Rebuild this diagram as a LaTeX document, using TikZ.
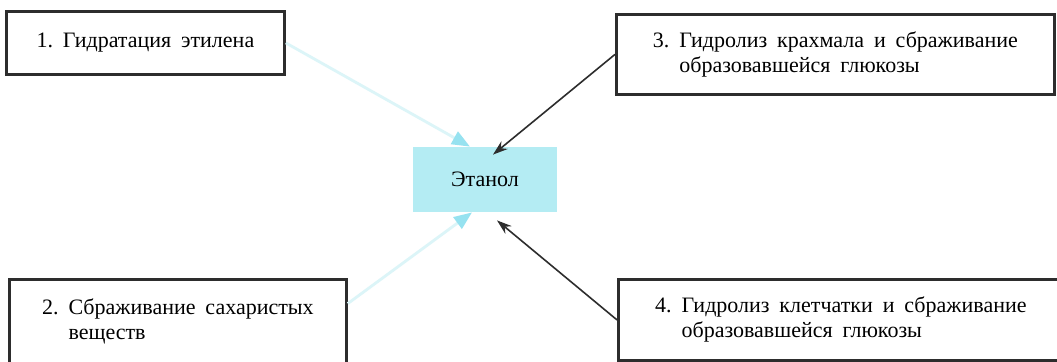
\documentclass[tikz,border=0pt]{standalone}
\usepackage{fontspec}
\setmainfont{Liberation Serif}
\usetikzlibrary{arrows.meta,positioning}
\definecolor{framegray}{RGB}{45,45,45}
\definecolor{ethcyan}{RGB}{180,236,243}
\definecolor{palecyan}{RGB}{220,245,248}
\definecolor{tipcyan}{RGB}{150,226,240}
\newcommand{\boxfont}{\fontsize{11}{12.5}\selectfont\frenchspacing
  \spaceskip=.45em plus .1em minus .05em}
\tikzstyle{sbox}=[rectangle,draw=framegray,line width=1.4pt,inner xsep=15pt,inner ysep=2pt,
                  align=left,anchor=north west,font=\boxfont]
\tikzstyle{prod}=[rectangle,fill=ethcyan,minimum width=72pt,minimum height=32.5pt,
                  font=\fontsize{11}{13}\selectfont]
\tikzstyle{arrow}=[-{Stealth[length=7.5pt,width=5pt,inset=2.5pt]},line width=0.8pt,draw=framegray]
\tikzstyle{farrow}=[-{Triangle[length=9pt,width=7pt,color=tipcyan]},line width=1.4pt,draw=palecyan]

\begin{document}
\begin{tikzpicture}[x=0.5pt,y=-0.5pt]
  \clip (0,0) rectangle (1057,361);
  \fill[white] (0,0) rectangle (1057,361);

  \node[sbox,minimum width=139pt,minimum height=31.5pt] (s1) at (5,10) {1. Гидратация этилена};
  \node[sbox,minimum width=168.5pt,minimum height=42pt] (s2) at (8,278)
    {2. Сбраживание сахаристых\\\phantom{2. }веществ};
  \node[sbox,minimum width=219pt,minimum height=40pt] (s3) at (615,13)
    {3. Гидролиз крахмала и сбраживание\\\phantom{3. }образовавшейся глюкозы};
  \node[sbox,minimum width=222.5pt,minimum height=40.5pt] (s4) at (617,278)
    {4. Гидролиз клетчатки и сбраживание\\\phantom{4. }образовавшейся глюкозы};
  \node[prod] (eth) at (485,179.5) {Этанол};

  \draw[farrow] (s1.east) -- ([shift={(-15,0)}]eth.north);
  \draw[farrow] (s2.6) -- ([shift={(-13,0)}]eth.south);
  \draw[arrow] (s3.west) -- ([shift={(8,8)}]eth.north);
  \draw[arrow] (s4.west) -- ([shift={(12,8)}]eth.south);
\end{tikzpicture}
\end{document}
